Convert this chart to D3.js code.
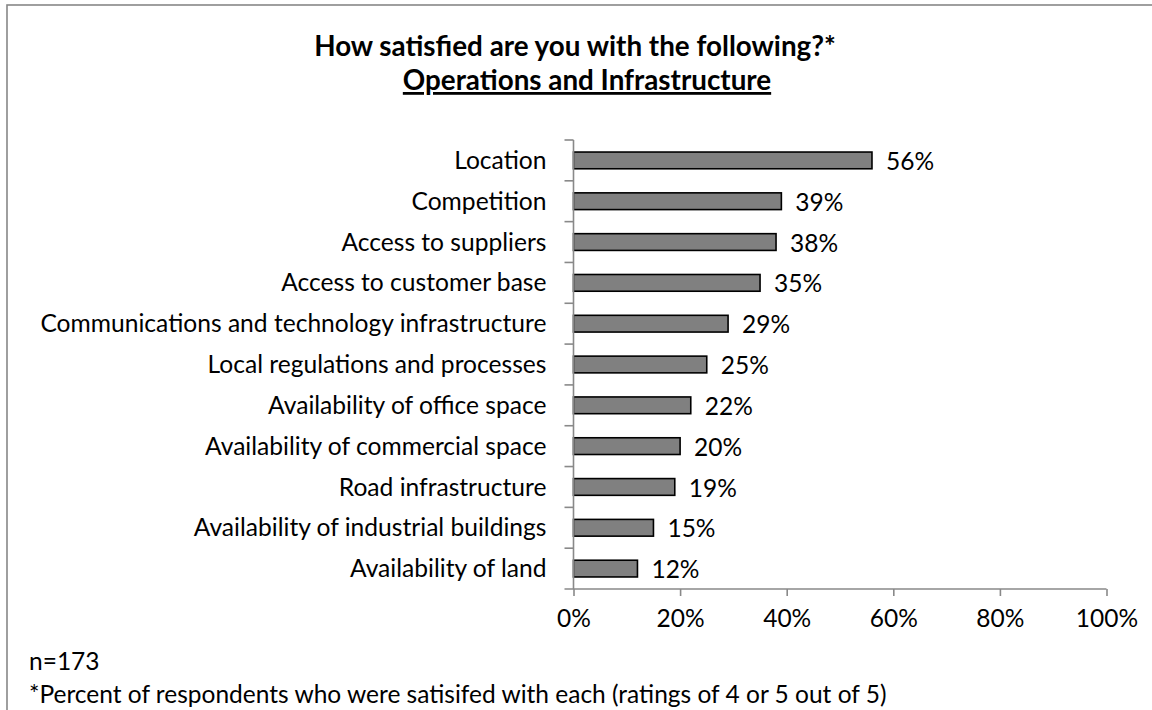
<!DOCTYPE html>
<html>
<head>
<meta charset="utf-8">
<script src="https://cdn.jsdelivr.net/npm/d3@7/dist/d3.min.js"></script>
<style>
  html, body { margin: 0; padding: 0; background: #fff; }
  svg { display: block; }
  text { font-family: Lato, "Open Sans", "DejaVu Sans", sans-serif; fill: #000; }
</style>
</head>
<body>
<svg id="chart" width="1152" height="710"></svg>
<script>
// Survey results: share of respondents satisfied (4 or 5 out of 5)
const categories = [
  "Location",
  "Competition",
  "Access to suppliers",
  "Access to customer base",
  "Communications and technology infrastructure",
  "Local regulations and processes",
  "Availability of office space",
  "Availability of commercial space",
  "Road infrastructure",
  "Availability of industrial buildings",
  "Availability of land"
];
const satisfiedPct = [56, 39, 38, 35, 29, 25, 22, 20, 19, 15, 12];
const xTickValues = [0, 20, 40, 60, 80, 100];
const titleLines = ["How satisfied are you with the following?*", "Operations and Infrastructure"];
const notes = ["n=173", "*Percent of respondents who were satisifed with each (ratings of 4 or 5 out of 5)"];

const svg = d3.select("#chart");
const axisColor = "#898989";

// Outer frame (runs off the right and bottom edges)
svg.append("rect")
  .attr("x", 7).attr("y", 5)
  .attr("width", 1300).attr("height", 900)
  .attr("fill", "none")
  .attr("stroke", "#878787")
  .attr("stroke-width", 1.6);

// Plot area
const plot = { left: 573.5, right: 1106.5, top: 140, bottom: 589 };

const x = d3.scaleLinear().domain([0, 100]).range([plot.left, plot.right]);
const y = d3.scaleBand()
  .domain(categories)
  .range([plot.top, plot.bottom])
  .paddingInner(0.59)
  .paddingOuter(0.295);

// Title
const title = svg.append("g").attr("text-anchor", "middle");
title.append("text")
  .attr("x", 575).attr("y", 56)
  .attr("font-size", 27.8).attr("font-weight", 700)
  .text(titleLines[0]);
title.append("text")
  .attr("x", 587).attr("y", 90)
  .attr("font-size", 27.8).attr("font-weight", 700)
  .attr("text-decoration", "underline")
  .text(titleLines[1]);

// Bars
svg.append("g")
  .selectAll("rect")
  .data(categories)
  .join("rect")
  .attr("x", x(0))
  .attr("y", d => y(d))
  .attr("width", (d, i) => x(satisfiedPct[i]) - x(0))
  .attr("height", y.bandwidth())
  .attr("fill", "#808080")
  .attr("stroke", "#000")
  .attr("stroke-width", 1.6);

// Value labels
svg.append("g")
  .selectAll("text")
  .data(categories)
  .join("text")
  .attr("x", (d, i) => x(satisfiedPct[i]) + 14)
  .attr("y", d => y(d) + y.bandwidth() / 2 + 1)
  .attr("dy", "0.35em")
  .attr("font-size", 24.5)
  .text((d, i) => satisfiedPct[i] + "%");

// Category axis: line, ticks between categories, labels
const yAxis = svg.append("g");
yAxis.append("line")
  .attr("x1", plot.left).attr("x2", plot.left)
  .attr("y1", plot.top).attr("y2", plot.bottom)
  .attr("stroke", axisColor).attr("stroke-width", 1.6);
const step = y.step();
const boundaries = d3.range(categories.length).map(i => y(categories[i]) - (step - y.bandwidth()) / 2);
yAxis.selectAll("line.tick")
  .data(boundaries)
  .join("line")
  .attr("class", "tick")
  .attr("x1", plot.left - 9).attr("x2", plot.left)
  .attr("y1", d => d).attr("y2", d => d)
  .attr("stroke", axisColor).attr("stroke-width", 1.6);
yAxis.selectAll("text")
  .data(categories)
  .join("text")
  .attr("x", plot.left - 27)
  .attr("y", d => y(d) + y.bandwidth() / 2)
  .attr("dy", "0.35em")
  .attr("text-anchor", "end")
  .attr("font-size", 24.6)
  .text(d => d);

// Value axis along the bottom
const xAxis = d3.axisBottom(x)
  .tickValues(xTickValues)
  .tickSize(7)
  .tickPadding(14)
  .tickFormat(d => d + "%");
const xg = svg.append("g")
  .attr("transform", `translate(0,${plot.bottom})`)
  .call(xAxis);
xg.select(".domain").remove();
xg.append("line")
  .attr("x1", plot.left - 9).attr("x2", plot.right)
  .attr("y1", 0).attr("y2", 0)
  .attr("stroke", axisColor).attr("stroke-width", 1.6);
xg.selectAll(".tick line").attr("stroke", axisColor).attr("stroke-width", 1.6);
xg.selectAll(".tick text")
  .attr("font-size", 24.5)
  .attr("font-family", "Lato, 'Open Sans', sans-serif")
  .attr("fill", "#000");

// Footnotes
svg.append("g")
  .selectAll("text")
  .data(notes)
  .join("text")
  .attr("x", 29)
  .attr("y", (d, i) => 670 + i * 33)
  .attr("font-size", 24.5)
  .text(d => d);
</script>
</body>
</html>
